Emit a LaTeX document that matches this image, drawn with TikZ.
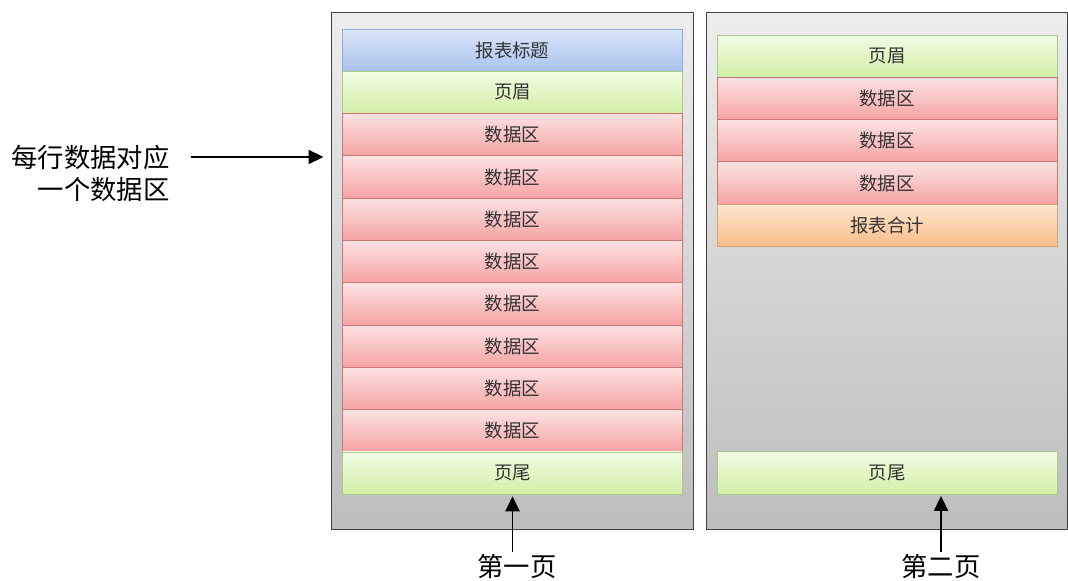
\documentclass[tikz,border=0pt]{standalone}
\usepackage{fontspec}
\newfontfamily\cjk{Noto Sans CJK SC}
\usepackage{xcolor}
\usetikzlibrary{arrows.meta, positioning}

\definecolor{pagetop}{HTML}{EDEDED}
\definecolor{pagebot}{HTML}{BDBDBD}
\definecolor{labeltext}{HTML}{333333}
\definecolor{titletop}{HTML}{DCE6F8}
\definecolor{titlebot}{HTML}{A9C3EF}
\definecolor{titleline}{HTML}{8FA9D6}
\definecolor{headtop}{HTML}{F2FCE4}
\definecolor{headbot}{HTML}{D3EFA6}
\definecolor{headline}{HTML}{A9C98A}
\definecolor{datatop}{HTML}{FDE2E2}
\definecolor{databot}{HTML}{F5A3A3}
\definecolor{dataline}{HTML}{C97878}
\definecolor{sumtop}{HTML}{FDE6D0}
\definecolor{sumbot}{HTML}{F9BD88}
\definecolor{sumline}{HTML}{D2A47A}

\begin{document}
\begin{tikzpicture}[
				x=0.02cm, y=-0.02cm,
				font=\cjk,
				page/.style={rectangle, draw=black!75, line width=0.6pt, top color=pagetop, bottom color=pagebot, minimum width=7.24cm, minimum height=10.36cm, inner sep=0pt, outer sep=0pt},
				band/.style={rectangle, inner sep=0pt, outer sep=0pt, minimum width=6.8cm, minimum height=0.846cm, text=labeltext, font=\cjk\fontsize{10.5}{12}\selectfont, line width=0.5pt},
				titleband/.style={band, draw=titleline, top color=titletop, bottom color=titlebot},
				headband/.style={band, draw=headline, top color=headtop, bottom color=headbot},
				databand/.style={band, draw=dataline, top color=datatop, bottom color=databot},
				sumband/.style={band, draw=sumline, top color=sumtop, bottom color=sumbot},
				caption/.style={font=\cjk\fontsize{15}{18}\selectfont, inner sep=0pt},
				arrow/.style={-{Triangle[length=0.3cm, width=0.28cm]}, line width=1.1pt}
				]
				
				\useasboundingbox (0,0) rectangle (1068,581);
				
				\node[page] (page1) at (512.5,271) {};
				\node[page] (page2) at (887,271) {};
				
				% first page
				\node[titleband, below=17*0.02cm of page1.north] (title1) {报表标题};
				\node[headband, below=0pt of title1] (head1) {页眉};
				\node[databand, below=0pt of head1] (data11) {数据区};
				\node[databand, below=0pt of data11] (data12) {数据区};
				\node[databand, below=0pt of data12] (data13) {数据区};
				\node[databand, below=0pt of data13] (data14) {数据区};
				\node[databand, below=0pt of data14] (data15) {数据区};
				\node[databand, below=0pt of data15] (data16) {数据区};
				\node[databand, below=0pt of data16] (data17) {数据区};
				\node[databand, below=0pt of data17] (data18) {数据区};
				\node[headband, below=0pt of data18] (foot1) {页尾};
				
				% second page
				\node[headband, below=23*0.02cm of page2.north] (head2) {页眉};
				\node[databand, below=0pt of head2] (data21) {数据区};
				\node[databand, below=0pt of data21] (data22) {数据区};
				\node[databand, below=0pt of data22] (data23) {数据区};
				\node[sumband, below=0pt of data23] (total2) {报表合计};
				\node[headband, above=36*0.02cm of page2.south] (foot2) {页尾};
				
				% captions
				\node[caption, anchor=east] (note1) at (170,157) {每行数据对应};
				\node[caption, anchor=east] (note2) at (170,190) {一个数据区};
				\node[caption] (name1) at (517,566) {第一页};
				\node[caption] (name2) at (941,566) {第二页};
				
				\draw[arrow, shorten <=21*0.02cm, shorten >=8*0.02cm] (note1.east) -- (note1.east -| page1.west);
				\draw[arrow, shorten <=1pt, shorten >=2*0.02cm] (name1.north -| foot1.south) -- (foot1.south);
				\draw[arrow, shorten <=1pt, shorten >=2*0.02cm] (name2.north) -- (name2.north |- foot2.south);
				
			\end{tikzpicture}
\end{document}
